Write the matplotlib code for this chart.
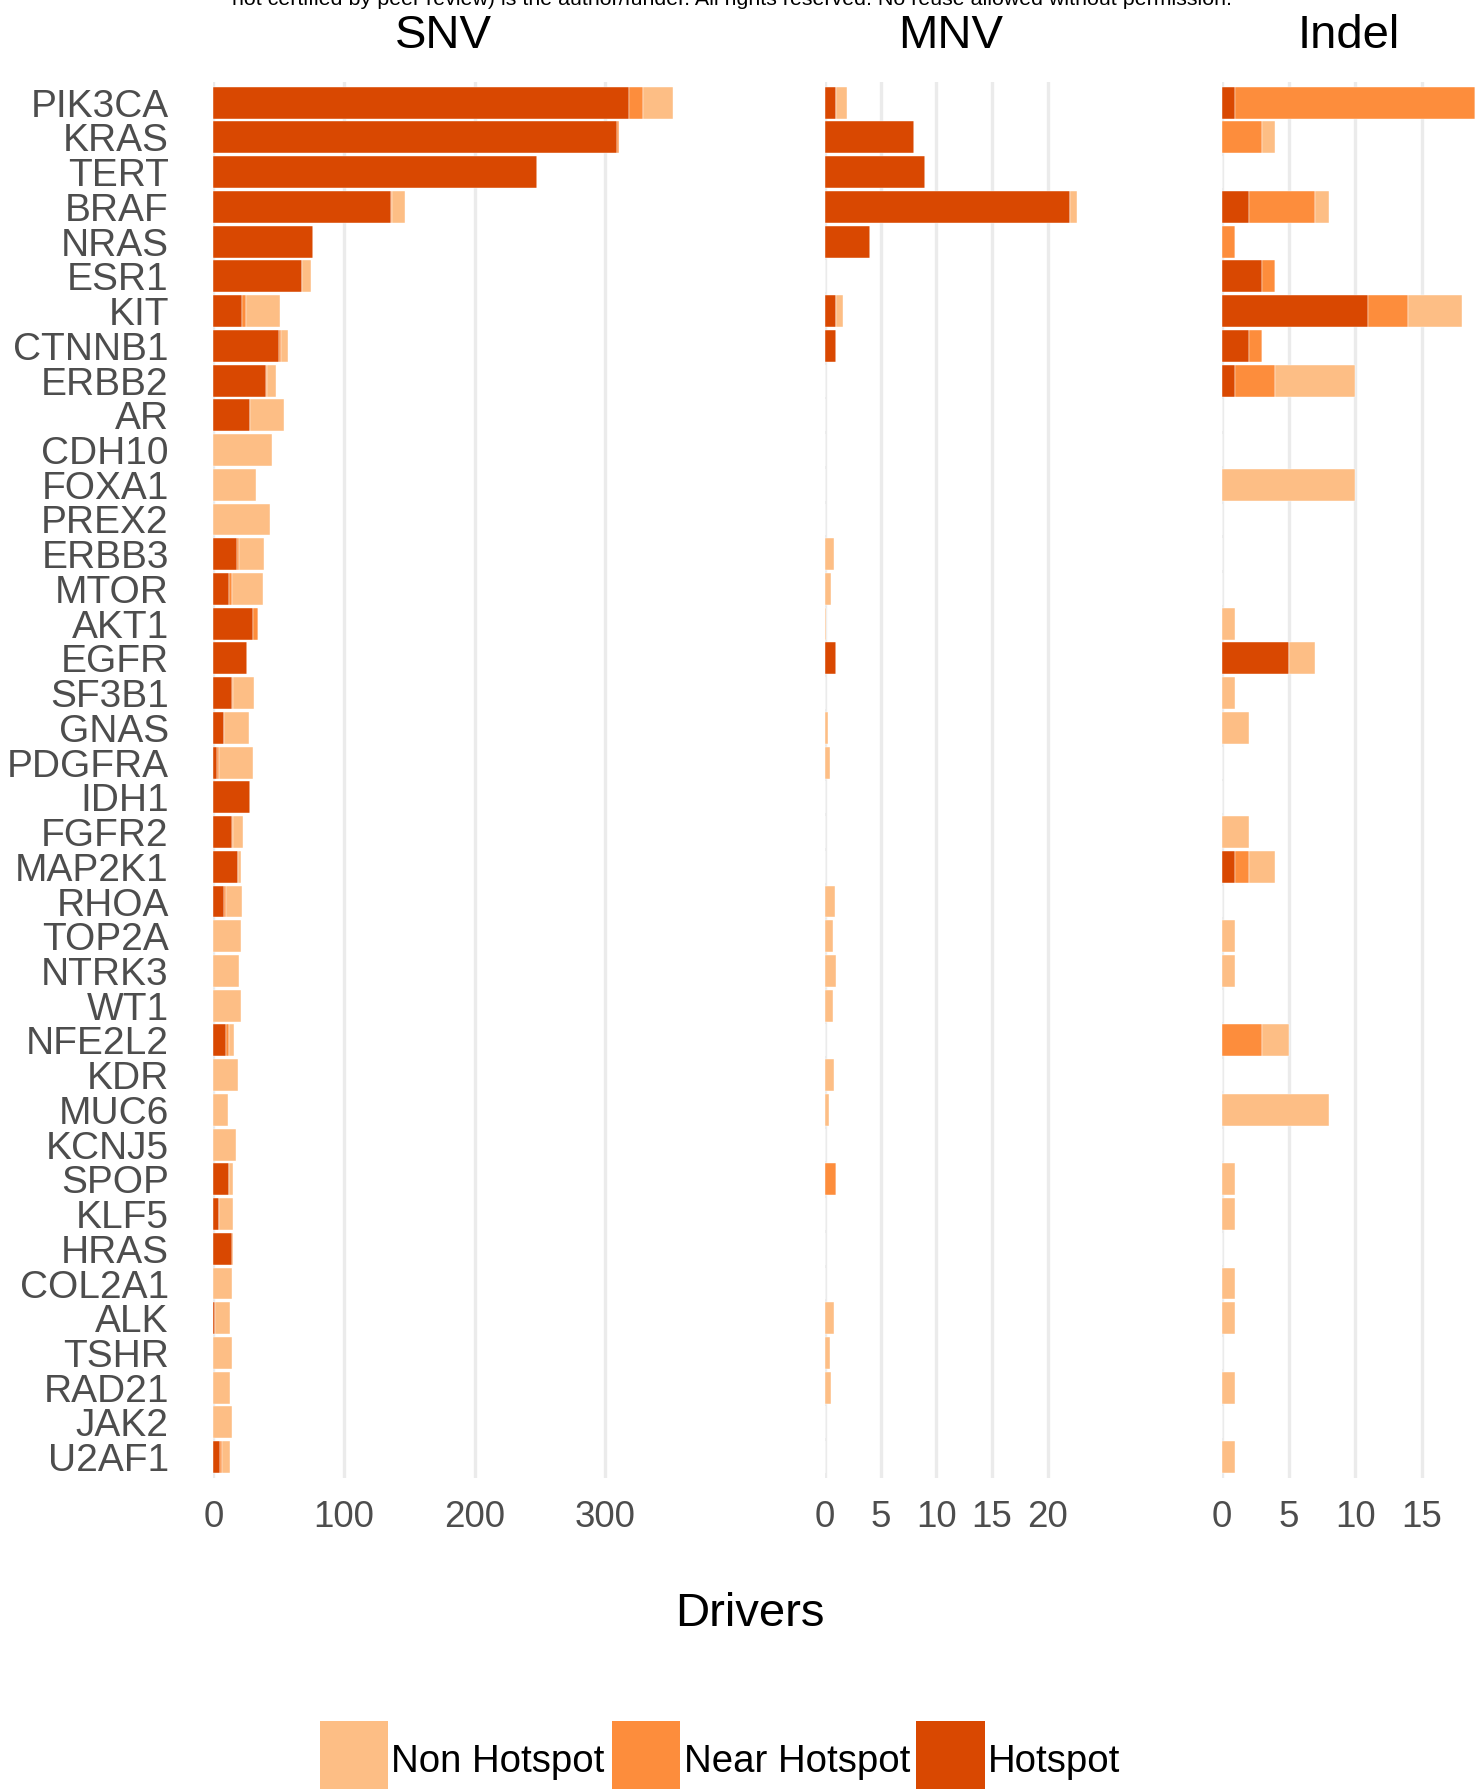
import numpy as np
import matplotlib
matplotlib.use("Agg")
import matplotlib.pyplot as plt
from matplotlib.patches import Rectangle

plt.rcParams['font.family'] = ['Liberation Sans', 'DejaVu Sans']

genes = ["PIK3CA", "KRAS", "TERT", "BRAF", "NRAS", "ESR1", "KIT", "CTNNB1", "ERBB2", "AR",
         "CDH10", "FOXA1", "PREX2", "ERBB3", "MTOR", "AKT1", "EGFR", "SF3B1", "GNAS", "PDGFRA",
         "IDH1", "FGFR2", "MAP2K1", "RHOA", "TOP2A", "NTRK3", "WT1", "NFE2L2", "KDR", "MUC6",
         "KCNJ5", "SPOP", "KLF5", "HRAS", "COL2A1", "ALK", "TSHR", "RAD21", "JAK2", "U2AF1"]

# SNV driver counts per gene
snv_hotspot = [318, 309, 248, 136, 76, 68, 22, 50, 40, 28,
               0, 0, 0, 18, 12, 30, 26, 14, 8, 3,
               28, 14, 19, 8, 0, 0, 0, 10, 0, 0,
               0, 12, 4, 14, 0, 1, 0, 0, 0, 5]
snv_near = [11, 1, 0, 1, 0, 0, 3, 2, 1, 0,
            0, 0, 0, 2, 2, 4, 0, 1, 0, 1,
            0, 1, 0, 2, 0, 0, 0, 2, 0, 0,
            0, 0, 0, 1, 0, 0, 0, 0, 0, 2]
snv_non = [23, 0, 0, 10, 0, 7, 26, 5, 7, 26,
           45, 33, 43, 19, 24, 0, 0, 16, 19, 26,
           0, 8, 2, 12, 21, 20, 21, 4, 19, 11,
           17, 3, 11, 0, 14, 12, 14, 13, 14, 6]

# MNV driver counts per gene
mnv_hotspot = [1, 8, 9, 22, 4, 0, 1, 1, 0, 0,
               0, 0, 0, 0, 0, 0, 1, 0, 0, 0,
               0, 0, 0, 0, 0, 0, 0, 0, 0, 0,
               0, 0, 0, 0, 0, 0, 0, 0, 0, 0]
mnv_near = [0, 0, 0, 0, 0, 0, 0, 0, 0, 0,
            0, 0, 0, 0, 0, 0, 0, 0, 0, 0,
            0, 0, 0, 0, 0, 0, 0, 0, 0, 0,
            0, 1, 0, 0, 0, 0, 0, 0, 0, 0]
mnv_non = [1, 0, 0, 0.65, 0, 0, 0.65, 0, 0, 0,
           0, 0, 0, 0.84, 0.56, 0.12, 0, 0, 0.28, 0.48,
           0, 0, 0, 0.92, 0.68, 1.0, 0.68, 0, 0.8, 0.32,
           0, 0, 0, 0, 0, 0.8, 0.48, 0.56, 0, 0]

# Indel driver counts per gene
indel_hotspot = [1, 0, 0, 2, 0, 3, 11, 2, 1, 0,
                 0, 0, 0, 0, 0, 0, 5, 0, 0, 0,
                 0, 0, 1, 0, 0, 0, 0, 0, 0, 0,
                 0, 0, 0, 0, 0, 0, 0, 0, 0, 0]
indel_near = [18, 3, 0, 5, 1, 1, 3, 1, 3, 0,
              0, 0, 0, 0, 0, 0, 0, 0, 0, 0,
              0, 0, 1, 0, 0, 0, 0, 3, 0, 0,
              0, 0, 0, 0, 0, 0, 0, 0, 0, 0]
indel_non = [0, 1, 0, 1, 0, 0, 4, 0, 6, 0,
             0, 10, 0, 0, 0, 1, 2, 1, 2, 0,
             0, 2, 2, 0, 1, 1, 0, 2, 0, 8,
             0, 1, 1, 0, 1, 1, 0, 1, 0, 1]

panel_titles = ["SNV", "MNV", "Indel"]
panel_ticks = [[0, 100, 200, 300], [0, 5, 10, 15, 20], [0, 5, 10, 15]]
category_labels = ["Non Hotspot", "Near Hotspot", "Hotspot"]
category_colors = ["#FDBE85", "#FD8D3C", "#D94801"]

panels = [
    (snv_hotspot, snv_near, snv_non),
    (mnv_hotspot, mnv_near, mnv_non),
    (indel_hotspot, indel_near, indel_non),
]

W, H = 1481, 1789
fig = plt.figure(figsize=(W / 100, H / 100), dpi=100)

def fx(px):
    return px / W

def fy(py):
    return 1 - py / H

# Panel extents in pixels (left edge, right edge)
panel_x = [(213.3, 673.4), (825.0, 1077.0), (1222.0, 1475.0)]
top_px, bottom_px = 81.9, 1478.0

y = np.arange(len(genes))
grey_text = "#4D4D4D"

for i, ((hot, near, non), (x0, x1)) in enumerate(zip(panels, panel_x)):
    ax = fig.add_axes([fx(x0), fy(bottom_px), fx(x1 - x0), (bottom_px - top_px) / H])
    hot = np.array(hot, float)
    near = np.array(near, float)
    non = np.array(non, float)
    total = hot + near + non
    for vals, left, col in [(hot, 0, category_colors[2]),
                            (near, hot, category_colors[1]),
                            (non, hot + near, category_colors[0])]:
        ax.barh(y, vals, left=left, height=0.92, color=col,
                edgecolor="white", linewidth=0.3, zorder=2)
    ax.set_xlim(0, total.max())
    ax.set_ylim(len(genes) - 0.4, -0.6)
    ax.set_xticks(panel_ticks[i])
    ax.set_xticklabels([str(t) for t in panel_ticks[i]])
    ax.grid(axis="x", color="#EBEBEB", linewidth=2.4, zorder=0)
    ax.set_axisbelow(True)
    for s in ax.spines.values():
        s.set_visible(False)
    ax.tick_params(axis="x", length=0, pad=16, labelsize=26.5, labelcolor=grey_text)
    if i == 0:
        ax.set_yticks(y)
        ax.set_yticklabels(genes)
        ax.tick_params(axis="y", length=0, pad=32, labelsize=28, labelcolor=grey_text)
    else:
        ax.set_yticks([])
    ax.set_facecolor("white")
    fig.text(fx((x0 + x1) / 2), fy(47.5), panel_titles[i], ha="center", va="baseline",
             fontsize=34, color="black")

# Axis title shared by the three panels
fig.text(fx(750), fy(1626), "Drivers", ha="center", va="baseline", fontsize=34, color="black")

# Notice line at the top edge
fig.text(fx(732), fy(5), "not certified by peer review) is the author/funder. All rights reserved. "
         "No reuse allowed without permission.", ha="center", va="baseline",
         fontsize=15.4, color="black")

# Legend along the bottom
key_w = 68.5
key_top = 1720.6
legend_items = [(319.5, 391.0), (611.6, 683.5), (916.0, 988.0)]
for (kx, tx), lab, col in zip(legend_items, category_labels, category_colors):
    fig.add_artist(Rectangle((fx(kx), 0), fx(key_w), (H - key_top) / H,
                             transform=fig.transFigure, facecolor=col, edgecolor="none"))
    fig.text(fx(tx), fy(1772), lab, ha="left", va="baseline", fontsize=27.6, color="black")

fig.savefig("out.png", dpi=100, facecolor="white")
